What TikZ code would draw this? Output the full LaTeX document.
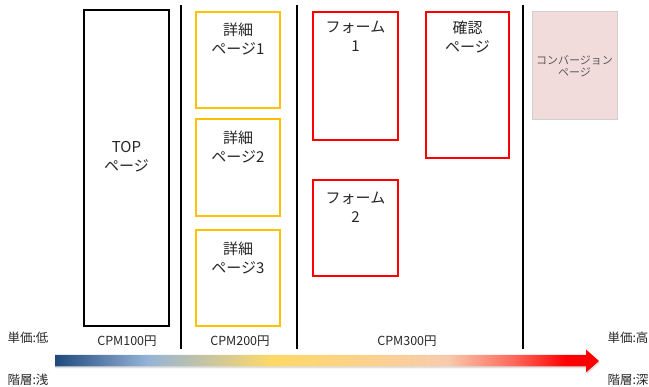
\documentclass[tikz,border=0pt]{standalone}
\usepackage{fontspec}
\setmainfont{Noto Sans CJK JP}
\definecolor{txt}{HTML}{262626}
\definecolor{gold}{HTML}{FFC000}
\definecolor{pred}{HTML}{FF0000}
\definecolor{convfill}{HTML}{F2DCDB}
\definecolor{convline}{HTML}{D0CECE}
\definecolor{convtxt}{HTML}{595959}
\definecolor{gNavy}{HTML}{1F497D}
\definecolor{gBlue}{HTML}{95B3D7}
\definecolor{gGold}{HTML}{FFD966}
\definecolor{gPeach}{HTML}{F8CBAD}
\definecolor{gSalmon}{HTML}{FF6B5E}
\definecolor{gRed}{HTML}{FF0000}
\pgfdeclarehorizontalshading{arrowgrad}{100bp}{color(0bp)=(gNavy); color(25bp)=(gNavy); color(33.5bp)=(gBlue); color(45bp)=(gGold); color(61bp)=(gPeach); color(67bp)=(gSalmon); color(72bp)=(gRed); color(100bp)=(gRed)}
\tikzset{
  pagebox/.style={rectangle, inner sep=0pt, outer sep=0pt, anchor=north west},
  topbox/.style={pagebox, draw=black, line width=1.4pt},
  detailbox/.style={pagebox, draw=gold, line width=1.7pt},
  formbox/.style={pagebox, draw=pred, line width=1.5pt},
  convbox/.style={pagebox, draw=convline, fill=convfill, line width=0.8pt},
  boxtext/.style={align=center, text=txt, inner sep=0pt, font=\fontsize{15}{19}\selectfont},
  convtext/.style={align=center, text=convtxt, inner sep=0pt, font=\fontsize{11}{12.5}\selectfont},
  lbl/.style={text=txt, inner sep=0pt, font=\fontsize{12.5}{14}\selectfont},
  divider/.style={draw=black, line width=2pt},
}
\begin{document}
\begin{tikzpicture}[x=1pt,y=-1pt]
\useasboundingbox (0,0) rectangle (649,387);
% dividers
\coordinate (d1t) at (181,5);   \coordinate (d1b) at (181,349);
\coordinate (d2t) at (296.5,5); \coordinate (d2b) at (296.5,349);
\coordinate (d3t) at (523,5);   \coordinate (d3b) at (523,349);
\draw[divider] (d1t) -- (d1b);
\draw[divider] (d2t) -- (d2b);
\draw[divider] (d3t) -- (d3b);
% boxes
\node[topbox, minimum width=85pt, minimum height=316pt] (top) at (84,10) {};
\node[detailbox, minimum width=84pt, minimum height=96pt] (det1) at (196,12) {};
\node[detailbox, minimum width=84pt, minimum height=97pt] (det2) at (196,119) {};
\node[detailbox, minimum width=84pt, minimum height=96pt] (det3) at (196,230) {};
\node[formbox, minimum width=85pt, minimum height=128pt] (form1) at (313,12) {};
\node[formbox, minimum width=83pt, minimum height=146pt] (conf) at (426,12) {};
\node[formbox, minimum width=85pt, minimum height=96pt] (form2) at (313,180) {};
\node[convbox, minimum width=85pt, minimum height=108pt] (conv) at (532,11) {};
% box texts
\node[boxtext] (toptxt) at (126.5,157) {TOP\\ページ};
\node[boxtext] (det1txt) at (238,39) {詳細\\ページ1};
\node[boxtext] (det2txt) at (238,147) {詳細\\ページ2};
\node[boxtext] (det3txt) at (238,257.5) {詳細\\ページ3};
\node[boxtext] (form1txt) at (355.5,36.5) {フォーム\\1};
\node[boxtext] (conftxt) at (467.5,37) {確認\\ページ};
\node[boxtext] (form2txt) at (355.5,207.5) {フォーム\\2};
\node[convtext] (convtxt) at (574.5,66) {コンバージョン\\ページ};
% labels
\node[lbl] (lowprice) at (28,338) {単価:低};
\node[lbl] (shallow) at (28,380) {階層:浅};
\node[lbl] (highprice) at (628,338) {単価:高};
\node[lbl] (deep) at (628,380) {階層:深};
\node[lbl] (cpm100) at (127,341) {CPM100円};
\node[lbl] (cpm200) at (240,341) {CPM200円};
\node[lbl] (cpm300) at (407,341) {CPM300円};
% gradient arrow
\fill[black!12] (55,357) -- (587,357) -- (587,351.5) -- (600,363) -- (587,374) -- (587,368.5) -- (55,368.5) -- cycle;
\shade[shading=arrowgrad] (55,355) -- (586,355) -- (586,349.5) -- (599,361) -- (586,372.5) -- (586,366.5) -- (55,366.5) -- cycle;
\end{tikzpicture}
\end{document}
